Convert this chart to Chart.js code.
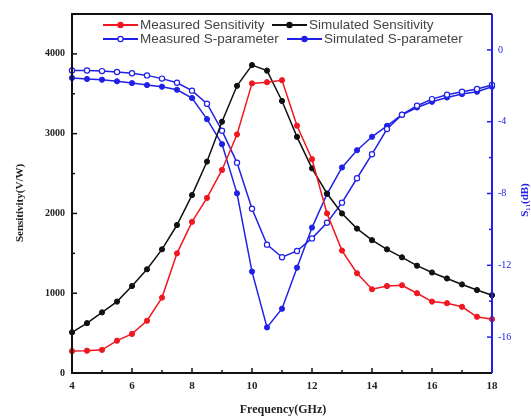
<!DOCTYPE html>
<html>
<head>
<meta charset="utf-8">
<script src="https://cdn.jsdelivr.net/npm/chart.js@4.4.1/dist/chart.umd.min.js"></script>
<style>html,body{margin:0;padding:0;background:#fff}canvas{display:block}</style>
</head>
<body>
<canvas id="c" width="531" height="419"></canvas>
<script>
'use strict';
// Sensitivity (V/W) and S11 (dB) against frequency, measured vs simulated.
const FREQ = [4, 4.5, 5, 5.5, 6, 6.5, 7, 7.5, 8, 8.5, 9, 9.5, 10, 10.5, 11, 11.5, 12, 12.5, 13, 13.5, 14, 14.5, 15, 15.5, 16, 16.5, 17, 17.5, 18];
const MEAS_SENS = [275, 280, 290, 405, 490, 655, 945, 1500, 1895, 2195, 2545, 2990, 3630, 3645, 3670, 3100, 2680, 2000, 1535, 1250, 1050, 1090, 1100, 1000, 895, 875, 830, 705, 675];
const SIM_SENS = [510, 625, 760, 895, 1090, 1300, 1550, 1855, 2230, 2650, 3150, 3600, 3860, 3790, 3410, 2960, 2565, 2250, 2000, 1810, 1665, 1550, 1450, 1345, 1260, 1185, 1110, 1040, 975];
const MEAS_S11 = [-1.15, -1.15, -1.18, -1.23, -1.3, -1.42, -1.6, -1.83, -2.27, -3.0, -4.5, -6.28, -8.85, -10.85, -11.55, -11.2, -10.5, -9.63, -8.51, -7.15, -5.81, -4.41, -3.61, -3.11, -2.74, -2.5, -2.33, -2.18, -1.95];
const SIM_S11 = [-1.56, -1.62, -1.66, -1.75, -1.85, -1.96, -2.05, -2.22, -2.68, -3.86, -5.25, -7.99, -12.35, -15.46, -14.42, -12.13, -9.9, -8.03, -6.55, -5.59, -4.84, -4.23, -3.61, -3.21, -2.89, -2.65, -2.46, -2.33, -2.05];

const X_TICKS = [4, 6, 8, 10, 12, 14, 16, 18];
const Y_TICKS = [0, 1000, 2000, 3000, 4000];
const Y1_TICKS = [0, -4, -8, -12, -16];

const RED = '#f01820', BLACK = '#111', BLUE = '#2020e8';
const SERIF = '"Liberation Serif", "Times New Roman", serif';
const SANS = '"Liberation Sans", Arial, sans-serif';

const pts = arr => arr.map((v, i) => ({ x: FREQ[i], y: v }));
const ds = (label, data, color, axis, open) => ({
  label, data: pts(data), yAxisID: axis, borderColor: color, backgroundColor: open ? '#fff' : color,
  pointBorderColor: color, pointBackgroundColor: open ? '#fff' : color, pointRadius: 2.6, pointBorderWidth: open ? 1.2 : 1,
  borderWidth: 1.5, tension: 0, clip: false,
});

// frame, inward ticks, legend and axis titles
const deco = {
  id: 'deco',
  afterDraw(ch) {
    const c = ch.ctx, a = ch.chartArea, sx = ch.scales.x, sy = ch.scales.y, sy1 = ch.scales.y1;
    c.save();
    c.lineWidth = 1.5; c.strokeStyle = BLACK;
    const tick = (x1, y1, x2, y2) => { c.beginPath(); c.moveTo(x1, y1); c.lineTo(x2, y2); c.stroke(); };
    for (let v = 4; v <= 18; v++) { const p = sx.getPixelForValue(v); tick(p, a.bottom, p, a.bottom - (v % 2 ? 3 : 5)); }
    for (let v = 0; v <= 4500; v += 500) { const p = sy.getPixelForValue(v); tick(a.left, p, a.left + (v % 1000 ? 3 : 5), p); }
    c.strokeStyle = BLUE;
    for (let v = -18; v <= 2; v += 2) { const p = sy1.getPixelForValue(v); tick(a.right, p, a.right - (v % 4 ? 3 : 5), p); }
    c.lineWidth = 2; c.strokeStyle = BLACK;
    c.beginPath(); c.moveTo(a.right, a.top); c.lineTo(a.left, a.top); c.lineTo(a.left, a.bottom); c.lineTo(a.right, a.bottom); c.stroke();
    c.strokeStyle = BLUE; tick(a.right, a.top, a.right, a.bottom);

    // legend, two rows inside the plot
    const items = [[0, 103, 25], [1, 272, 25], [2, 103, 39], [3, 287, 39]];
    c.font = '13.5px ' + SANS; c.textBaseline = 'middle'; c.textAlign = 'left';
    items.forEach(([i, x, y]) => {
      const d = ch.data.datasets[i];
      c.strokeStyle = d.borderColor; c.lineWidth = 2; tick(x, y, x + 35, y);
      c.beginPath(); c.arc(x + 17.5, y, 2.6, 0, Math.PI * 2); c.fillStyle = d.pointBackgroundColor; c.fill(); c.lineWidth = 1.2; c.stroke();
      c.fillStyle = '#444'; c.fillText(d.label, x + 37, y + 0.5);
    });

    // axis titles
    c.fillStyle = '#222'; c.font = 'bold 11px ' + SERIF; c.textAlign = 'center';
    c.save(); c.translate(20, 203); c.rotate(-Math.PI / 2); c.fillText('Sensitivity(V/W)', 0, 0); c.restore();
    c.fillStyle = BLUE;
    c.save(); c.translate(525, 200); c.rotate(-Math.PI / 2); c.fillText('S\u2081\u2081(dB)', 0, 0); c.restore();
    c.fillStyle = '#222'; c.font = 'bold 12px ' + SERIF;
    c.fillText('Frequency(GHz)', 283, 410);
    c.restore();
  },
};

const plain = v => String(v);

new Chart(document.getElementById('c'), {
  type: 'line',
  data: {
    datasets: [
      ds('Measured Sensitivity', MEAS_SENS, RED, 'y'),
      ds('Simulated Sensitivity', SIM_SENS, BLACK, 'y'),
      ds('Measured S-parameter', MEAS_S11, BLUE, 'y1', true),
      ds('Simulated S-parameter', SIM_S11, BLUE, 'y1'),
    ],
  },
  options: {
    responsive: false, animation: false, devicePixelRatio: 1,
    layout: { padding: { top: 14, left: 0, right: 0, bottom: 0 } },
    plugins: { legend: { display: false }, tooltip: { enabled: false } },
    scales: {
      x: {
        type: 'linear', min: 4, max: 18, grid: { display: false, drawTicks: false }, border: { display: false },
        afterBuildTicks: s => { s.ticks = X_TICKS.map(v => ({ value: v })); },
        afterFit: s => { s.height = 46; },
        ticks: { padding: 7, color: '#222', callback: plain, font: { family: SERIF, size: 11, weight: 'bold' } },
      },
      y: {
        position: 'left', min: 0, max: 4500, grid: { display: false, drawTicks: false }, border: { display: false },
        afterBuildTicks: s => { s.ticks = Y_TICKS.map(v => ({ value: v })); },
        afterFit: s => { s.width = 72; },
        ticks: { padding: 7, color: '#222', callback: plain, font: { family: SERIF, size: 10, weight: 'bold' } },
      },
      y1: {
        position: 'right', min: -18, max: 2, grid: { display: false, drawTicks: false }, border: { display: false },
        afterBuildTicks: s => { s.ticks = Y1_TICKS.map(v => ({ value: v })); },
        afterFit: s => { s.width = 39; },
        ticks: { padding: 6, color: BLUE, callback: plain, font: { family: SERIF, size: 10 } },
      },
    },
  },
  plugins: [deco],
});
</script>
</body>
</html>
